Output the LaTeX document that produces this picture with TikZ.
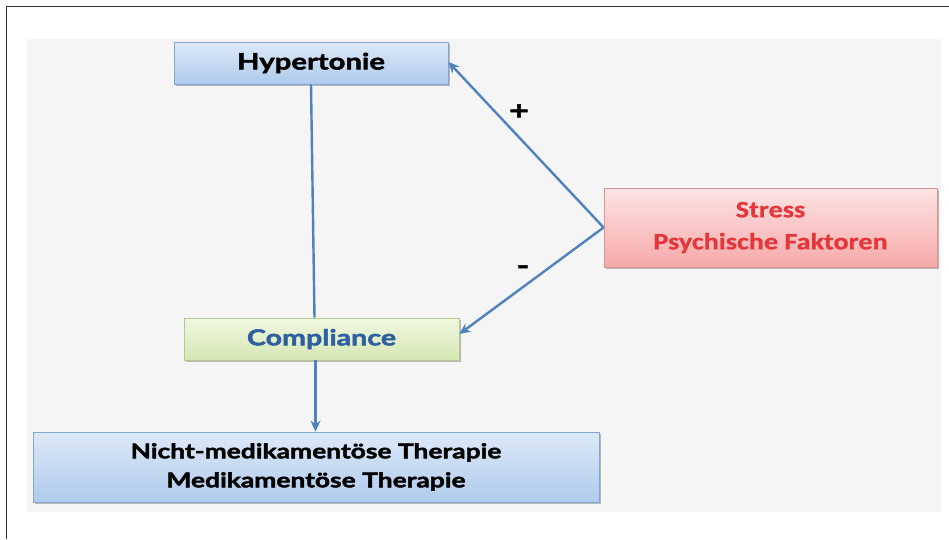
\documentclass[tikz,border=0pt]{standalone}
\usepackage{fontspec}
\setmainfont{Lato}
\newfontfamily\gill[FakeStretch=1.3,FakeBold=2.2]{Lato Bold}
\newfontfamily\calib[FakeStretch=1.2,FakeBold=0.6]{Carlito Bold}
\usetikzlibrary{arrows.meta,shadows}
\definecolor{bgray}{HTML}{F5F5F5}
\definecolor{arrowblue}{HTML}{4F82BE}
\definecolor{compblue}{HTML}{2E5F9E}
\definecolor{stressred}{HTML}{E4363B}
\definecolor{blueline}{HTML}{7FA6D4}
\definecolor{bluetop}{HTML}{DDE9F8}
\definecolor{bluebot}{HTML}{AFCBEC}
\definecolor{redtop}{HTML}{FDE4E4}
\definecolor{redbot}{HTML}{F6A9A9}
\definecolor{redline}{HTML}{D99494}
\definecolor{greentop}{HTML}{F0F7E0}
\definecolor{greenbot}{HTML}{D5E7B5}
\definecolor{greenline}{HTML}{B5CA90}
\tikzset{
  box/.style={draw, line width=0.8pt, inner sep=0pt, align=center,
    drop shadow={shadow xshift=1.5pt, shadow yshift=-2pt, opacity=0.25, fill=black}},
  bluebox/.style={box, draw=blueline, top color=bluetop, bottom color=bluebot},
  conn/.style={draw=arrowblue, line width=2.4pt},
  arr/.style={conn, -{Stealth[length=11pt,width=10pt]}},
  sign/.style={font=\gill\fontsize{26}{28}\selectfont, inner sep=0pt}
}
\begin{document}
\begin{tikzpicture}[x=1pt,y=-1pt]
\path[use as bounding box] (0,0) rectangle (949,539);
\fill[white] (0,0) rectangle (949,539);
\fill[bgray] (27,39) rectangle (941,512);
\draw[line width=1.6pt, draw=black!80] (6.5,539) -- (6.5,6.5) -- (949,6.5);
\node[bluebox, minimum width=274pt, minimum height=42pt,
  font=\gill\fontsize{22.5}{27}\selectfont] (hyp) at (311,63) {Hypertonie};
\node[box, draw=redline, top color=redtop, bottom color=redbot,
  minimum width=333pt, minimum height=79pt, text=stressred,
  font=\calib\fontsize{23.5}{32}\selectfont] (stress) at (770.5,227.5) {Stress\\Psychische Faktoren};
\node[box, draw=greenline, top color=greentop, bottom color=greenbot,
  minimum width=275pt, minimum height=42pt, text=compblue,
  font=\gill\fontsize{22}{27}\selectfont] (comp) at (321.5,339) {Compliance};
\node[bluebox, minimum width=566pt, minimum height=70pt,
  font=\gill\fontsize{20.3}{29}\selectfont] (ther) at (316,467)
  {\raisebox{3.5pt}{\begin{tabular}{@{}c@{}}Nicht-medikament\"ose Therapie\\Medikament\"ose Therapie\end{tabular}}};
\coordinate (c1) at (hyp.south);
\coordinate (c2) at ([xshift=-7pt]comp.north);
\draw[conn] (c1) -- (c2);
\draw[arr] ([xshift=-6pt]comp.south) -- ([xshift=-6pt]comp.south |- ther.north);
\coordinate (sw) at (stress.west);
\draw[arr] (sw) -- ([yshift=1pt]hyp.east);
\draw[arr] (sw) -- ([yshift=5pt]comp.east);
\node[sign] (plus) at (519,112) {+};
\node[sign] (minus) at (523,270) {-};
\end{tikzpicture}
\end{document}
